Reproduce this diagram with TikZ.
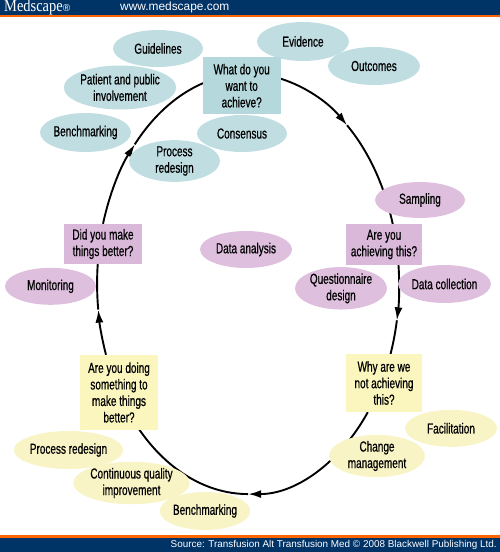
\documentclass[tikz,border=0pt]{standalone}
\usepackage{fontspec}
\setmainfont{Liberation Sans}[FakeStretch=0.69,FakeBold=0.6]
\newfontfamily\hdrfont{Liberation Sans}
\newfontfamily\logofont{Liberation Serif}[FakeStretch=0.85]
\usetikzlibrary{shapes.geometric,arrows.meta,backgrounds}
\definecolor{navy}{RGB}{0,51,102}
\definecolor{orng}{RGB}{255,102,0}
\definecolor{blueE}{RGB}{192,222,226}
\definecolor{blueB}{RGB}{180,216,220}
\definecolor{pinkE}{RGB}{222,192,222}
\definecolor{pinkB}{RGB}{218,184,218}
\definecolor{yelE}{RGB}{248,244,198}
\definecolor{yelB}{RGB}{250,246,190}
\tikzset{
  txt/.style={font=\fontsize{14.5}{16.5}\selectfont, align=center, text=black},
  oval/.style={ellipse, inner sep=0pt, txt},
  qbox/.style={rectangle, inner sep=0pt, txt},
  cyc/.style={line width=1.9pt, black},
  cyctip/.style={cyc, -{Latex[length=13pt,width=8pt]}},
  ell/.style={x radius=151, y radius=210},
  bE/.style={oval, fill=blueE},
  pE/.style={oval, fill=pinkE},
  yE/.style={oval, fill=yelE},
  bB/.style={qbox, fill=blueB},
  pB/.style={qbox, fill=pinkB},
  yB/.style={qbox, fill=yelB},
}
\begin{document}
\begin{tikzpicture}[x=1pt,y=-1pt]
\useasboundingbox (0,0) rectangle (500,552);
% header and footer bars
\fill[navy] (0,0) rectangle (500,14.7);
\fill[orng] (0,14.7) rectangle (500,17.3);
\fill[orng] (0,535) rectangle (500,538.3);
\fill[navy] (0,538.3) rectangle (500,552);
\node[anchor=west, text=white, inner sep=0pt, font=\logofont\fontsize{17}{17}\selectfont] (logo) at (4,7.8) {Medscape{\fontsize{10}{10}\selectfont\hdrfont ®}};
\node[anchor=west, text=white, inner sep=0pt, font=\hdrfont\fontsize{11.9}{12}\selectfont] (url) at (120,7.5) {www.medscape.com};
\node[anchor=east, text=white, inner sep=0pt, font=\hdrfont\fontsize{9.9}{10}\selectfont] (src) at (497,545) {Source: Transfusion Alt Transfusion Med © 2008 Blackwell Publishing Ltd.};

% blue group
\node[bE, minimum width=90pt, minimum height=37pt] (guide) at (158,48.5) {Guidelines};
\node[bE, minimum width=94pt, minimum height=44pt] (patient) at (120,87.5) {Patient and public\\involvement};
\node[bE, minimum width=91pt, minimum height=39pt] (bench1) at (85.5,132.5) {Benchmarking};
\node[bE, minimum width=91pt, minimum height=38pt] (procred1) at (174.5,161) {Process\\redesign};
\node[bE, minimum width=90pt, minimum height=37pt] (consensus) at (242,133.5) {Consensus};
\node[bE, minimum width=92pt, minimum height=39pt] (evidence) at (303,41.5) {Evidence};
\node[bE, minimum width=92pt, minimum height=38pt] (outcomes) at (374,66) {Outcomes};
\node[bB, minimum width=78pt, minimum height=56.7pt] (what) at (241.7,85.7) {What do you\\want to\\achieve?};

% pink group
\node[pE, minimum width=90pt, minimum height=36pt] (sampling) at (420,200) {Sampling};
\node[pB, minimum width=76pt, minimum height=41pt] (achieving) at (384,244.5) {Are you\\achieving this?};
\node[pE, minimum width=92pt, minimum height=37pt] (quest) at (341,288.3) {Questionnaire\\design};
\node[pE, minimum width=89pt, minimum height=38pt] (datacoll) at (444.5,284) {Data collection};
\node[pE, minimum width=92pt, minimum height=37pt] (datanal) at (246,249.5) {Data analysis};
\node[pB, minimum width=78pt, minimum height=40pt] (didyou) at (103,244) {Did you make\\things better?};
\node[pE, minimum width=91pt, minimum height=37pt] (monitor) at (50.5,286.3) {Monitoring};

% yellow group
\node[yB, minimum width=78pt, minimum height=75pt] (doing) at (119,392.5) {Are you doing\\something to\\make things\\better?};
\node[yB, minimum width=76pt, minimum height=58pt] (why) at (384,383) {Why are we\\not achieving\\this?};
\node[yE, minimum width=92pt, minimum height=37pt] (facil) at (451,428.3) {Facilitation};
\node[yE, minimum width=96pt, minimum height=42pt] (change) at (377,456) {Change\\management};
\node[yE, minimum width=89pt, minimum height=38pt] (procred2) at (68.5,450) {Process redesign};
\node[yE, minimum width=97pt, minimum height=41pt] (cqi) at (131.5,483) {Continuous quality\\improvement};
\node[yE, minimum width=90pt, minimum height=38pt] (bench2) at (205,511) {Benchmarking};

% cycle connectors (each split at its arrowhead)
\begin{scope}[on background layer]
\draw[cyctip] (what.10) arc[start angle=-77.4, end angle=-49, ell] coordinate (m1);
\draw[cyc] (m1) arc[start angle=-49, end angle=-16, ell];
\draw[cyctip] (achieving.-55) arc[start angle=-5.2, end angle=9.9, ell] coordinate (m2);
\draw[cyc] (m2) arc[start angle=9.9, end angle=22, ell];
\draw[cyctip] (why.-119) arc[start angle=37.6, end angle=90, ell] coordinate (m3);
\draw[cyc] (m3) arc[start angle=90, end angle=140, ell];
\draw[cyctip] (doing.109) arc[start angle=160.2, end angle=172.9, ell] coordinate (m4);
\draw[cyc] (m4) arc[start angle=172.9, end angle=188, ell];
\draw[cyctip] (didyou.north) arc[start angle=196.6, end angle=221.6, ell] coordinate (m5);
\draw[cyc] (m5) arc[start angle=221.6, end angle=256, ell];
\end{scope}
\end{tikzpicture}
\end{document}
